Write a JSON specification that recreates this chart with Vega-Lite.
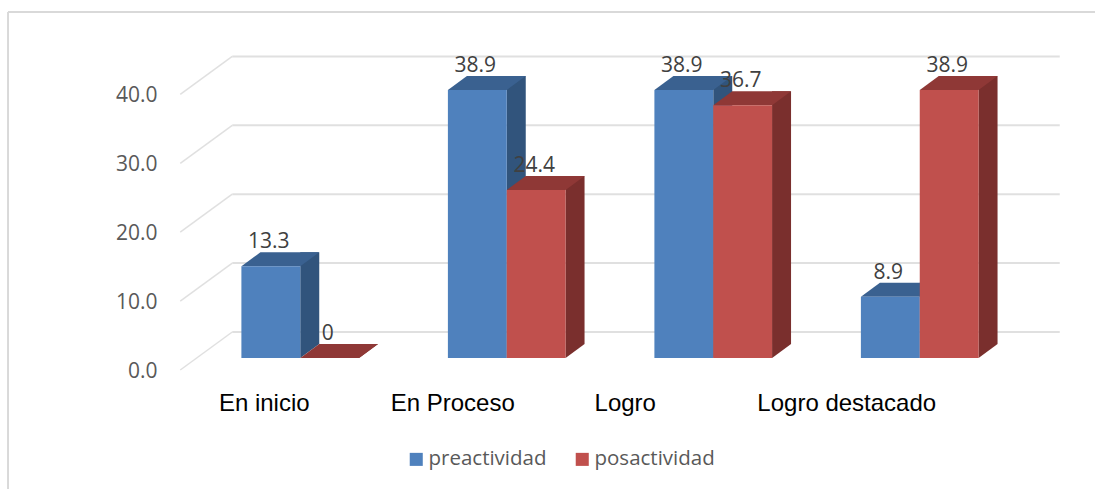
{"$schema":"https://vega.github.io/schema/vega-lite/v6.json","width":1087,"height":477,"autosize":{"type":"none"},"padding":{"left":8,"top":12,"right":0,"bottom":0},"background":"white","view":{"stroke":null},
"datasets":{"bars":[
{"categoria":"En inicio","serie":"preactividad","valor":13.3},{"categoria":"En inicio","serie":"posactividad","valor":0},
{"categoria":"En Proceso","serie":"preactividad","valor":38.9},{"categoria":"En Proceso","serie":"posactividad","valor":24.4},
{"categoria":"Logro","serie":"preactividad","valor":38.9},{"categoria":"Logro","serie":"posactividad","valor":36.7},
{"categoria":"Logro destacado","serie":"preactividad","valor":8.9},{"categoria":"Logro destacado","serie":"posactividad","valor":38.9}],
"grid":[{"tick":0},{"tick":10},{"tick":20},{"tick":30},{"tick":40}]},
"data":{"name":"bars"},
"layer":[
{"mark":{"type":"rule","color":"#d9d9d9","strokeWidth":1.5,"yOffset":-70.4},"encoding":{"y":{"datum":40,"type":"quantitative","title":null,"scale":{"domain":[0,40],"range":[346,70.4],"nice":false}}}},
{"mark":{"type":"rule","color":"#d9d9d9","strokeWidth":1.5,"xOffset":-292},"encoding":{"x":{"datum":"En inicio","type":"nominal","title":null,"scale":{"type":"band","domain":["En inicio","En Proceso","Logro","Logro destacado"],"range":[189,1015],"paddingInner":0.43,"paddingOuter":0.215}}}},
{"data":{"name":"grid"},"mark":{"type":"rule","color":"#e0e0e0","strokeWidth":2,"xOffset":-68,"x2Offset":140,"yOffset":-26},"encoding":{"x":{"datum":"En inicio","type":"nominal","title":null},"x2":{"datum":"Logro destacado"},"y":{"field":"tick","type":"quantitative","title":null}}},
{"data":{"name":"grid"},"mark":{"type":"point","shape":"M-120,12L-68,-26","size":4,"filled":false,"stroke":"#e0e0e0","strokeWidth":1.5,"opacity":1},"encoding":{"x":{"datum":"En inicio","type":"nominal","title":null},"y":{"field":"tick","type":"quantitative","title":null}}},

{"transform":[{"filter":"datum.serie=='preactividad'"}],"mark":{"type":"bar","color":"#31547c","width":19,"xOffset":9.5,"yOffset":-14,"y2Offset":-14},"encoding":{"x":{"field":"categoria","type":"nominal","title":null},"y":{"field":"valor","type":"quantitative","title":null}}},
{"transform":[{"filter":"datum.serie=='preactividad'"}],"mark":{"type":"point","shape":"M29.4,0L48.4,-14L29.4,-14Z","size":4,"filled":true,"color":"#31547c","opacity":1},"encoding":{"x":{"field":"categoria","type":"nominal","title":null},"xOffset":{"field":"serie","scale":{"domain":["preactividad","posactividad"],"paddingInner":0,"paddingOuter":0}},"y":{"datum":0,"type":"quantitative","title":null}}},
{"transform":[{"filter":"datum.serie=='preactividad'"}],"mark":{"type":"point","shape":"M-29.4,0L29.4,0L48.4,-14L-10.4,-14Z","size":4,"filled":true,"color":"#3a6190","opacity":1},"encoding":{"x":{"field":"categoria","type":"nominal","title":null},"xOffset":{"field":"serie"},"y":{"field":"valor","type":"quantitative","title":null}}},
{"transform":[{"filter":"datum.serie=='preactividad'"}],"mark":{"type":"bar"},"encoding":{"x":{"field":"categoria","type":"nominal","title":null,"axis":{"orient":"bottom","offset":-90,"domain":false,"ticks":false,"grid":false,"labelAngle":0,"labelAlign":"center","labelFont":"Liberation Sans","labelFontSize":24,"labelColor":"#000000","labelPadding":4,"labelLimit":300,"labelOffset":{"condition":[{"test":"datum.value=='En inicio'","value":-36},{"test":"datum.value=='En Proceso'","value":-54},{"test":"datum.value=='Logro'","value":-88}],"value":-73}}},"xOffset":{"field":"serie"},"y":{"field":"valor","type":"quantitative","title":null,"axis":{"orient":"left","offset":-153,"values":[0,10,20,30,40],"format":".1f","domain":false,"ticks":false,"grid":false,"labelFont":"Open Sans","labelFontSize":21,"labelColor":"#595959","labelPadding":4,"labelOffset":13.5}},"color":{"field":"serie","type":"nominal","title":null,"scale":{"domain":["preactividad","posactividad"],"range":["#4f81bd","#c0504d"]},"legend":{"orient":"none","legendX":398,"legendY":437,"direction":"horizontal","symbolType":"square","symbolSize":170,"symbolStrokeWidth":0,"labelFont":"Open Sans","labelFontSize":20.5,"labelColor":"#595959","columnPadding":25,"labelOffset":2,"labelLimit":200}}}},

{"transform":[{"filter":"datum.serie=='posactividad'"}],"mark":{"type":"bar","color":"#7a2f2d","width":19,"xOffset":68.3,"yOffset":-14,"y2Offset":-14},"encoding":{"x":{"field":"categoria","type":"nominal","title":null},"y":{"field":"valor","type":"quantitative","title":null}}},
{"transform":[{"filter":"datum.serie=='posactividad'"}],"mark":{"type":"point","shape":"M29.4,0L48.4,-14L29.4,-14Z","size":4,"filled":true,"color":"#7a2f2d","opacity":1},"encoding":{"x":{"field":"categoria","type":"nominal","title":null},"xOffset":{"field":"serie"},"y":{"datum":0,"type":"quantitative","title":null}}},
{"transform":[{"filter":"datum.serie=='posactividad'"}],"mark":{"type":"point","shape":"M-29.4,0L29.4,0L48.4,-14L-10.4,-14Z","size":4,"filled":true,"color":"#8f3836","opacity":1},"encoding":{"x":{"field":"categoria","type":"nominal","title":null},"xOffset":{"field":"serie"},"y":{"field":"valor","type":"quantitative","title":null}}},
{"transform":[{"filter":"datum.serie=='posactividad'"}],"mark":{"type":"bar"},"encoding":{"x":{"field":"categoria","type":"nominal","title":null},"xOffset":{"field":"serie"},"y":{"field":"valor","type":"quantitative","title":null},"color":{"field":"serie","type":"nominal","title":null}}},

{"mark":{"type":"text","font":"Open Sans","fontSize":21,"color":"#404040","dx":-2,"dy":-24,"baseline":"middle"},"encoding":{"x":{"field":"categoria","type":"nominal","title":null},"xOffset":{"field":"serie"},"y":{"field":"valor","type":"quantitative","title":null},"text":{"field":"valor","type":"quantitative"}}}
]}
